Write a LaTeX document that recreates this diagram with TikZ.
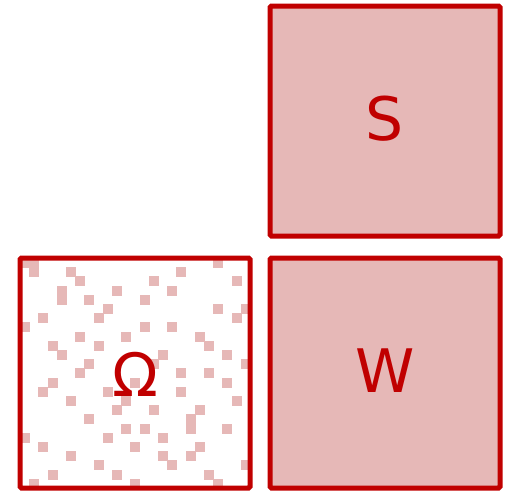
\documentclass[tikz,border=0pt]{standalone}
\usepackage{fontspec}
\setmainfont{DejaVu Sans}
\definecolor{bord}{HTML}{C00000}
\definecolor{pinkf}{HTML}{E6B8B7}
\begin{document}
\begin{tikzpicture}[x=1pt,y=-1pt,
  panel/.style={draw=bord,line width=5pt,rounded corners=1.5pt},
  lbl/.style={text=bord,font=\fontsize{60}{60}\selectfont,inner sep=0pt},
  speck/.style={fill=pinkf}]
\useasboundingbox (0,0) rectangle (507,491);
\foreach \c/\r in {0/0,1/0,1/1,5/1,6/2,4/3,4/4,7/4,10/3,9/5,8/6,2/6,0/7,6/8,11/8,3/9,8/9,4/10,7/11,6/12,
  21/0,17/1,14/2,23/2,16/3,13/4,21/5,24/5,23/6,13/7,16/7,19/8,20/9,15/10,22/10,24/11,14/11,17/12,20/12,
  3/13,2/14,9/14,12/13,5/15,11/15,10/16,7/17,11/18,0/19,9/19,2/20,12/20,5/21,8/22,3/23,10/23,1/24,12/24,
  17/14,22/13,23/15,14/16,19/16,18/17,18/18,13/18,22/18,15/19,19/20,15/21,18/21,16/22,24/22,20/23,21/24}{
  \fill[speck] ({20+9.2*\c},{258+9.2*\r}) rectangle ++(10,10);
}
\draw[panel,fill=pinkf] (270,6) rectangle (500,236);
\draw[panel,fill=pinkf] (270,258) rectangle (500,488);
\draw[panel] (20,258) rectangle (250,488);
\node[lbl] (s) at (385,118.5) {S};
\node[lbl] (w) at (385,370.5) {W};
\node[lbl] (om) at (135,374.5) {Ω};
\end{tikzpicture}
\end{document}
